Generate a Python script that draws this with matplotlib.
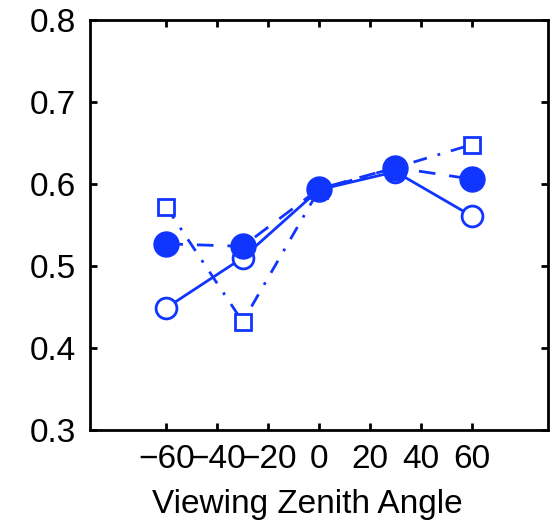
import matplotlib
matplotlib.use("Agg")
import matplotlib.pyplot as plt

angles = [-60, -30, 0, 30, 60]
open_circ = [0.449, 0.510, 0.593, 0.615, 0.561]
filled_circ = [0.527, 0.524, 0.594, 0.620, 0.606]
squares = [0.572, 0.432, 0.593, 0.620, 0.648]

xticks = [-60, -40, -20, 0, 20, 40, 60]
yticks = [0.3, 0.4, 0.5, 0.6, 0.7, 0.8]

blue = "#1035ff"

plt.rcParams["font.family"] = ["Liberation Sans", "DejaVu Sans"]

fig = plt.figure(figsize=(5.59, 5.29), dpi=100)
ax = fig.add_axes([90/559, 1-430/529, 458/559, 410/529])

ax.plot(angles, squares, color=blue, lw=2, ls=(0, (5, 4, 1, 4)), marker="s", ms=12,
        mfc="white", mec=blue, mew=2)
ax.plot(angles, open_circ, "-", color=blue, lw=2, marker="o", ms=15,
        mfc="white", mec=blue, mew=2)
ax.plot(angles, filled_circ, color=blue, lw=2, ls=(0, (6, 5)), marker="o", ms=18,
        mfc=blue, mec=blue)

ax.set_xlim(-90, 90)
ax.set_ylim(0.3, 0.8)
ax.set_xticks(xticks)
ax.set_xticklabels(["\u221260", "\u221240", "\u221220", "0", "20", "40", "60"])
ax.set_yticks(yticks)
ax.set_yticklabels(["%.1f" % v for v in yticks])
ax.tick_params(direction="in", top=True, right=True, length=5, width=2,
               labelsize=24, pad=10)
for s in ax.spines.values():
    s.set_linewidth(2)
ax.set_xlabel("Viewing Zenith Angle", fontsize=24)
ax.xaxis.set_label_coords(0.474, -0.145)

fig.savefig("out.png", dpi=100)
